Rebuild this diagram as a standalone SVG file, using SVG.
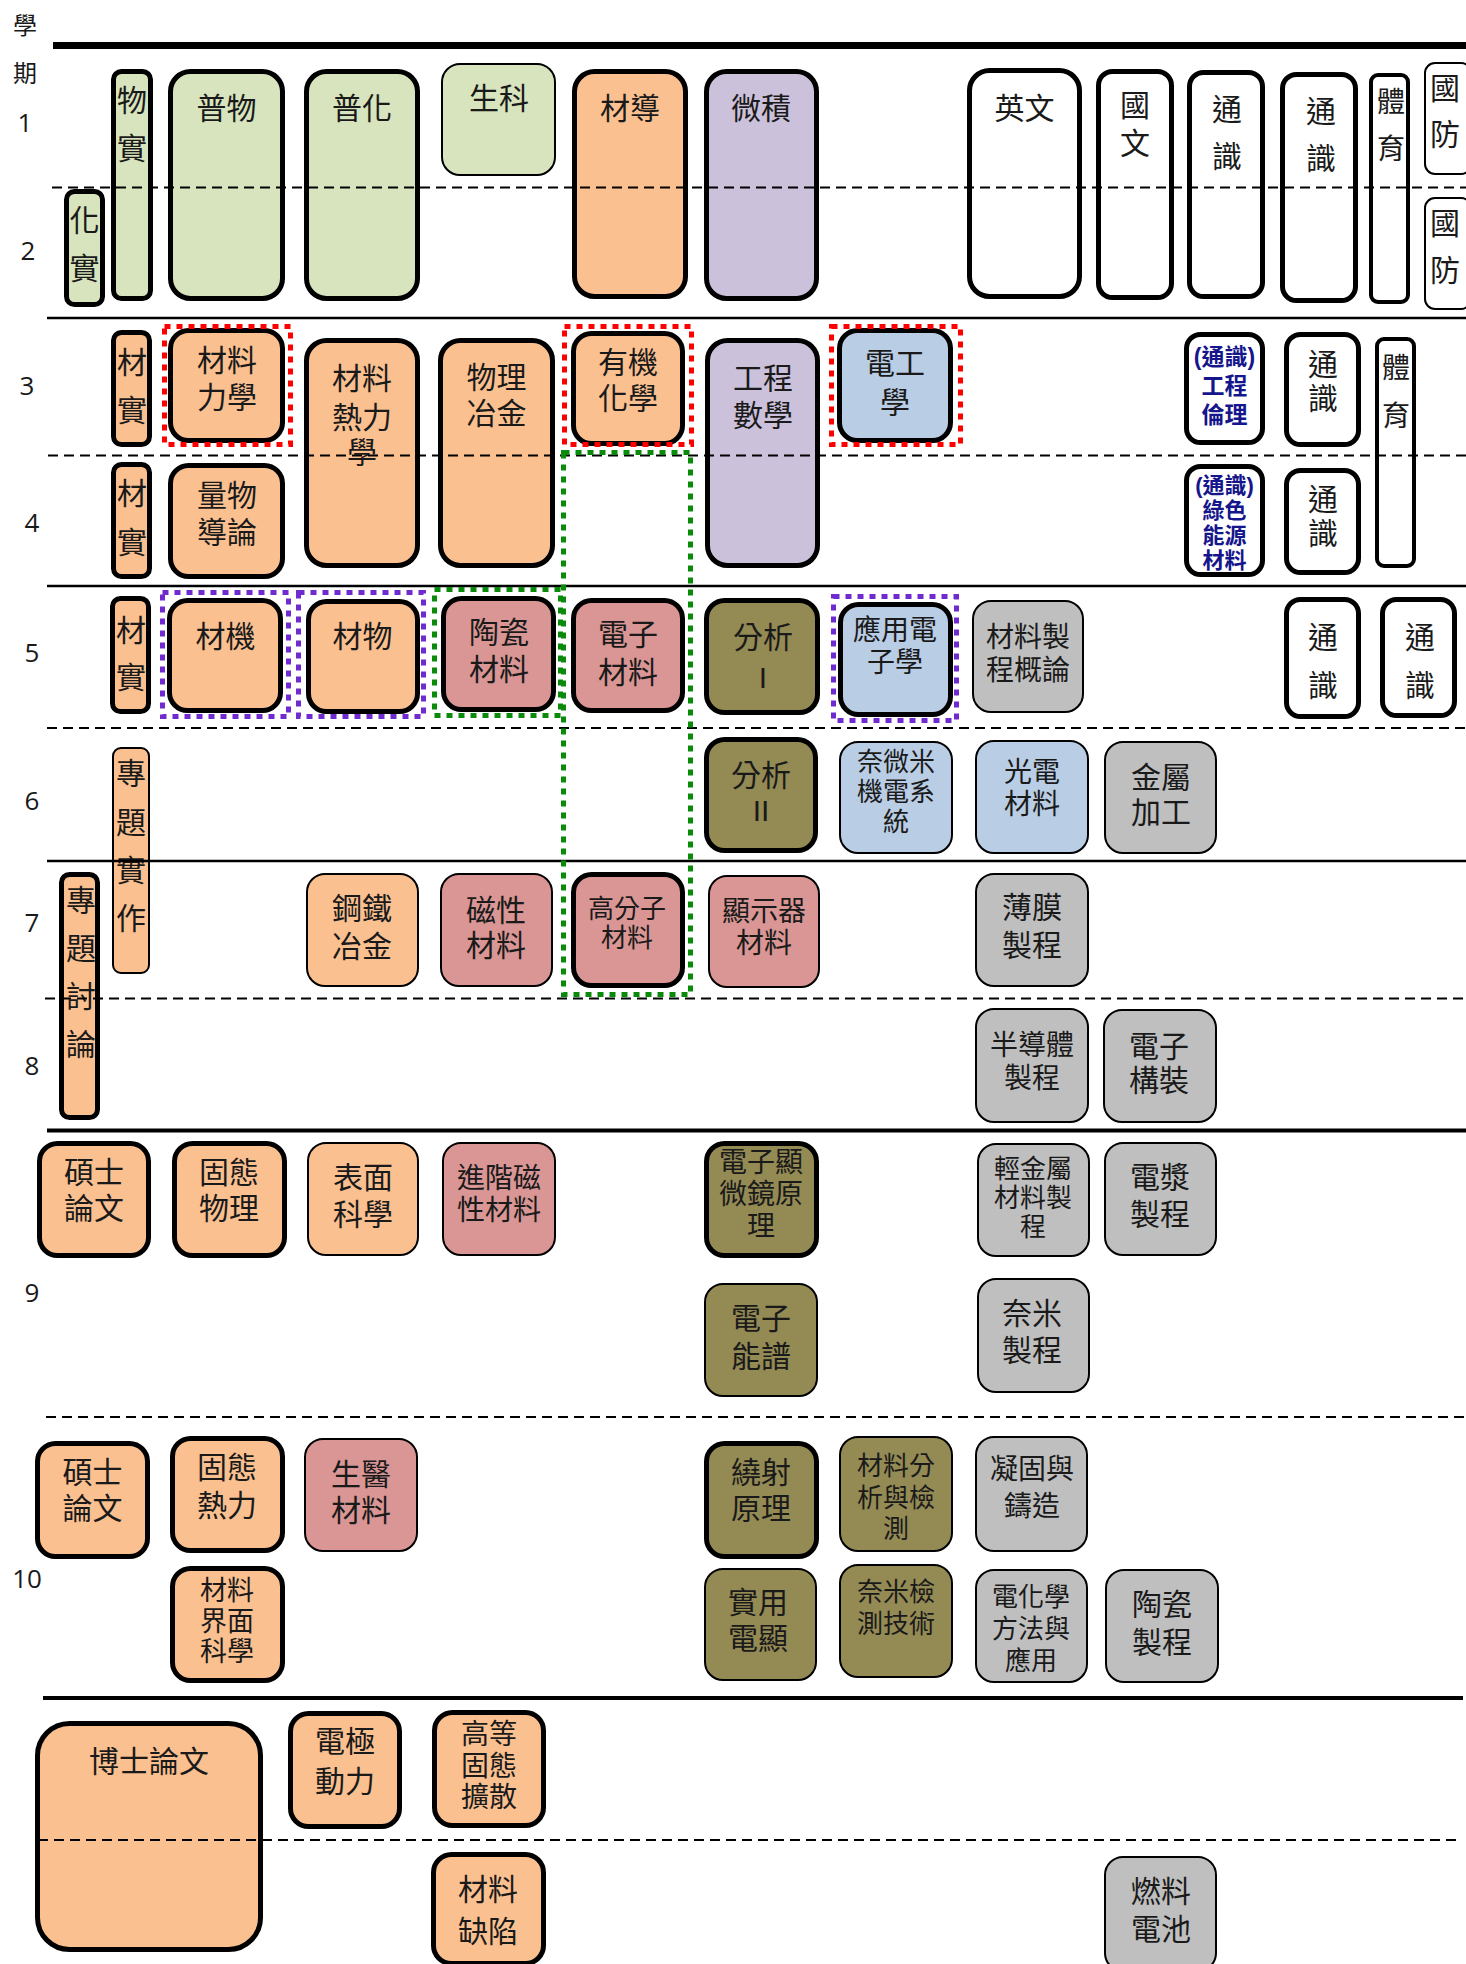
<svg xmlns="http://www.w3.org/2000/svg" width="1466" height="1964" viewBox="0 0 1466 1964">
<style>
.g{fill:#D7E4BD}.o{fill:#FAC090}.p{fill:#CCC1DA}.w{fill:#FFFFFF}.pk{fill:#D99694}.b{fill:#B9CDE5}.ol{fill:#948A54}.gr{fill:#BFBFBF}
.k{stroke:#000;stroke-width:5}.k4{stroke:#000;stroke-width:4}.t{stroke:#000;stroke-width:2}
text{font-family:"Liberation Sans","Noto Sans CJK TC","Noto Sans CJK SC",sans-serif;font-size:30px;fill:#1a1a1a;text-anchor:middle;dominant-baseline:central}
.s28{font-size:28px}.s27{font-size:27px}.s26{font-size:26px}
.nv{fill:#16168C;font-weight:bold;font-size:23px}
.nv2{font-size:22px}
.num{font-family:"Open Sans","Liberation Sans",sans-serif;font-size:26px}
.lab{font-size:24px}
.dash{stroke:#000;stroke-width:2;stroke-dasharray:10 6;fill:none}
.sol{stroke:#000;fill:none}
.fr{fill:none;stroke-width:5;stroke-dasharray:6 6}
.red{stroke:#FF0000}.grn{stroke:#0A8A0A}.pur{stroke:#6F2BD0}
</style>
<rect width="1466" height="1964" fill="#fff"/>
<g id="labels">
<text class="lab"><tspan x="25" y="25">學</tspan><tspan x="25" y="73">期</tspan></text>
<text class="num" x="25" y="122">1</text>
<text class="num" x="28" y="250">2</text>
<text class="num" x="27" y="385">3</text>
<text class="num" x="32" y="522">4</text>
<text class="num" x="32" y="652">5</text>
<text class="num" x="32" y="800">6</text>
<text class="num" x="32" y="922">7</text>
<text class="num" x="32" y="1065">8</text>
<text class="num" x="32" y="1292">9</text>
<text class="num" x="27" y="1578">10</text>
</g>
<g id="nodes">
<g id="n-wushi"><rect class="g k" x="113.5" y="71.5" width="37" height="227" rx="8"/><text><tspan x="132" y="100">物</tspan><tspan x="132" y="148">實</tspan></text></g>
<g id="n-huashi"><rect class="g k" x="66.5" y="191.5" width="36" height="113" rx="8"/><text><tspan x="84.5" y="220">化</tspan><tspan x="84.5" y="268">實</tspan></text></g>
<g id="n-puwu"><rect class="g k" x="170.5" y="71.5" width="112" height="227" rx="20"/><text x="226.5" y="108">普物</text></g>
<g id="n-puhua"><rect class="g k" x="306.5" y="71.5" width="111" height="227" rx="20"/><text x="362" y="108">普化</text></g>
<g id="n-shengke"><rect class="g t" x="442" y="64" width="113" height="111" rx="18"/><text x="499" y="98">生科</text></g>
<g id="n-caidao"><rect class="o k" x="574.5" y="71.5" width="111" height="225" rx="20"/><text x="630" y="108">材導</text></g>
<g id="n-weiji"><rect class="p k" x="706.5" y="71.5" width="110" height="227" rx="20"/><text x="761" y="108">微積</text></g>
<g id="n-yingwen"><rect class="w k" x="969.5" y="70.5" width="110" height="226" rx="20"/><text x="1024.5" y="108">英文</text></g>
<g id="n-guowen"><rect class="w k" x="1098.5" y="71.5" width="73" height="226" rx="14"/><text><tspan x="1135" y="105">國</tspan><tspan x="1135" y="143">文</tspan></text></g>
<g id="n-tongshi1"><rect class="w k" x="1189.5" y="72.5" width="73" height="224" rx="14"/><text><tspan x="1227" y="109">通</tspan><tspan x="1227" y="156">識</tspan></text></g>
<g id="n-tongshi2"><rect class="w k" x="1282.5" y="74.5" width="73" height="226" rx="14"/><text><tspan x="1321" y="111">通</tspan><tspan x="1321" y="158">識</tspan></text></g>
<g id="n-tiyu1"><rect class="w k4" x="1371" y="75" width="37" height="227" rx="7"/><text class="s28"><tspan x="1391" y="102">體</tspan><tspan x="1391" y="149">育</tspan></text></g>
<g id="n-guofang1"><rect class="w t" x="1425" y="63" width="46" height="111" rx="10"/><text><tspan x="1445" y="88">國</tspan><tspan x="1445" y="134">防</tspan></text></g>
<g id="n-guofang2"><rect class="w t" x="1425" y="198" width="46" height="111" rx="10"/><text><tspan x="1445" y="223">國</tspan><tspan x="1445" y="270">防</tspan></text></g>

<g id="n-caishi3"><rect class="o k" x="113.5" y="332.5" width="36" height="112" rx="8"/><text><tspan x="132" y="362">材</tspan><tspan x="132" y="410">實</tspan></text></g>
<g id="n-caishi4"><rect class="o k" x="113.5" y="464.5" width="36" height="112" rx="8"/><text><tspan x="132" y="493">材</tspan><tspan x="132" y="542">實</tspan></text></g>
<g id="n-cailiaolixue"><rect class="o k" x="170.5" y="330.5" width="112" height="110" rx="18"/><text><tspan x="227" y="360">材料</tspan><tspan x="227" y="397">力學</tspan></text></g>
<g id="n-liangwu"><rect class="o k" x="170.5" y="465.5" width="112" height="111" rx="18"/><text><tspan x="227" y="495">量物</tspan><tspan x="227" y="532">導論</tspan></text></g>
<g id="n-relixue"><rect class="o k" x="306.5" y="340.5" width="111" height="225" rx="20"/><text><tspan x="362" y="378">材料</tspan><tspan x="362" y="417">熱力</tspan><tspan x="362" y="452">學</tspan></text></g>
<g id="n-wulizhijin"><rect class="o k" x="440.5" y="340.5" width="112" height="225" rx="20"/><text><tspan x="496.5" y="377">物理</tspan><tspan x="496.5" y="413">冶金</tspan></text></g>
<g id="n-youji"><rect class="o k" x="573.5" y="333.5" width="109" height="110" rx="18"/><text><tspan x="628" y="362">有機</tspan><tspan x="628" y="398">化學</tspan></text></g>
<g id="n-gongshu"><rect class="p k" x="707.5" y="340.5" width="110" height="225" rx="20"/><text><tspan x="763" y="378">工程</tspan><tspan x="763" y="415">數學</tspan></text></g>
<g id="n-diangong"><rect class="b k" x="839.5" y="330.5" width="111" height="110" rx="18"/><text><tspan x="895" y="363">電工</tspan><tspan x="895" y="402">學</tspan></text></g>
<g id="n-lunli"><rect class="w k" x="1186.5" y="334.5" width="76" height="108" rx="14"/><text class="nv"><tspan x="1224.5" y="357">(通識)</tspan><tspan x="1224.5" y="386">工程</tspan><tspan x="1224.5" y="415">倫理</tspan></text></g>
<g id="n-tongshi3"><rect class="w k" x="1286.5" y="334.5" width="72" height="110" rx="14"/><text><tspan x="1323" y="364">通</tspan><tspan x="1323" y="398">識</tspan></text></g>
<g id="n-tiyu2"><rect class="w k4" x="1377" y="339" width="37" height="227" rx="7"/><text class="s28"><tspan x="1396" y="368">體</tspan><tspan x="1396" y="416">育</tspan></text></g>
<g id="n-lvse"><rect class="w k" x="1186.5" y="466.5" width="76" height="108" rx="14"/><text class="nv nv2"><tspan x="1224.5" y="485">(通識)</tspan><tspan x="1224.5" y="510">綠色</tspan><tspan x="1224.5" y="535">能源</tspan><tspan x="1224.5" y="560">材料</tspan></text></g>
<g id="n-tongshi4"><rect class="w k" x="1286.5" y="470.5" width="72" height="102" rx="14"/><text><tspan x="1323" y="499">通</tspan><tspan x="1323" y="533">識</tspan></text></g>

<g id="n-caishi5"><rect class="o k" x="112.5" y="598.5" width="36" height="113" rx="8"/><text><tspan x="131" y="630">材</tspan><tspan x="131" y="677">實</tspan></text></g>
<g id="n-caiji"><rect class="o k" x="169.5" y="600.5" width="111" height="110" rx="18"/><text x="225.5" y="636">材機</text></g>
<g id="n-caiwu"><rect class="o k" x="308.5" y="601.5" width="109" height="110" rx="18"/><text x="362.5" y="636">材物</text></g>
<g id="n-taoci"><rect class="pk k" x="443.5" y="598.5" width="110" height="111" rx="18"/><text><tspan x="499" y="632">陶瓷</tspan><tspan x="499" y="669">材料</tspan></text></g>
<g id="n-dianzicailiao"><rect class="pk k" x="573.5" y="600.5" width="109" height="110" rx="18"/><text><tspan x="628" y="634">電子</tspan><tspan x="628" y="672">材料</tspan></text></g>
<g id="n-fenxi1"><rect class="ol k" x="706.5" y="600.5" width="111" height="112" rx="18"/><text><tspan x="763" y="637">分析</tspan><tspan x="763" y="677">I</tspan></text></g>
<g id="n-yingyong"><rect class="b k" x="840.5" y="604.5" width="110" height="110" rx="18"/><text class="s28"><tspan x="895" y="630">應用電</tspan><tspan x="895" y="662">子學</tspan></text></g>
<g id="n-zhichenggailun"><rect class="gr t" x="973" y="601" width="110" height="111" rx="18"/><text class="s28"><tspan x="1028" y="637">材料製</tspan><tspan x="1028" y="670">程概論</tspan></text></g>
<g id="n-tongshi5a"><rect class="w k" x="1286.5" y="599.5" width="72" height="117" rx="14"/><text><tspan x="1323" y="637">通</tspan><tspan x="1323" y="685">識</tspan></text></g>
<g id="n-tongshi5b"><rect class="w k" x="1382.5" y="599.5" width="72" height="116" rx="14"/><text><tspan x="1420" y="637">通</tspan><tspan x="1420" y="685">識</tspan></text></g>
<g id="n-fenxi2"><rect class="ol k" x="706.5" y="739.5" width="109" height="111" rx="18"/><text><tspan x="761" y="775">分析</tspan><tspan x="761" y="810">II</tspan></text></g>
<g id="n-naiweimi"><rect class="b t" x="840" y="742" width="112" height="111" rx="18"/><text class="s26"><tspan x="896" y="762">奈微米</tspan><tspan x="896" y="792">機電系</tspan><tspan x="896" y="822">統</tspan></text></g>
<g id="n-guangdian"><rect class="b t" x="976" y="741" width="112" height="112" rx="18"/><text class="s28"><tspan x="1032" y="772">光電</tspan><tspan x="1032" y="804">材料</tspan></text></g>
<g id="n-jinshujiagong"><rect class="gr t" x="1105" y="742" width="111" height="111" rx="18"/><text><tspan x="1161" y="777">金屬</tspan><tspan x="1161" y="812">加工</tspan></text></g>
<g id="n-zhuantishizuo"><rect class="o t" x="113" y="748" width="36" height="225" rx="8"/><text><tspan x="131" y="773">專</tspan><tspan x="131" y="822">題</tspan><tspan x="131" y="870">實</tspan><tspan x="131" y="918">作</tspan></text></g>

<g id="n-zhuantitaolun"><rect class="o k" x="61.5" y="874.5" width="36" height="243" rx="8"/><text><tspan x="81" y="900">專</tspan><tspan x="81" y="948">題</tspan><tspan x="81" y="996">討</tspan><tspan x="81" y="1044">論</tspan></text></g>
<g id="n-gangtie"><rect class="o t" x="307" y="874" width="111" height="112" rx="18"/><text><tspan x="362" y="908">鋼鐵</tspan><tspan x="362" y="946">冶金</tspan></text></g>
<g id="n-cixing"><rect class="pk t" x="441" y="874" width="111" height="112" rx="18"/><text><tspan x="496" y="910">磁性</tspan><tspan x="496" y="945">材料</tspan></text></g>
<g id="n-gaofenzi"><rect class="pk k" x="573.5" y="874.5" width="109" height="111" rx="18"/><text class="s26"><tspan x="627" y="909">高分子</tspan><tspan x="627" y="938">材料</tspan></text></g>
<g id="n-xianshiqi"><rect class="pk t" x="709" y="876" width="110" height="111" rx="18"/><text class="s28"><tspan x="764" y="911">顯示器</tspan><tspan x="764" y="943">材料</tspan></text></g>
<g id="n-baomo"><rect class="gr t" x="976" y="874" width="112" height="112" rx="18"/><text><tspan x="1032" y="907">薄膜</tspan><tspan x="1032" y="945">製程</tspan></text></g>
<g id="n-bandaoti"><rect class="gr t" x="976" y="1009" width="112" height="113" rx="18"/><text class="s28"><tspan x="1032" y="1045">半導體</tspan><tspan x="1032" y="1078">製程</tspan></text></g>
<g id="n-goozhuang"><rect class="gr t" x="1104" y="1010" width="112" height="112" rx="18"/><text><tspan x="1159" y="1046">電子</tspan><tspan x="1159" y="1080">構裝</tspan></text></g>

<g id="n-shuoshi9"><rect class="o k" x="39.5" y="1143.5" width="109" height="112" rx="18"/><text><tspan x="94" y="1172">碩士</tspan><tspan x="94" y="1208">論文</tspan></text></g>
<g id="n-gutaiwuli"><rect class="o k" x="174.5" y="1143.5" width="110" height="112" rx="18"/><text><tspan x="229" y="1172">固態</tspan><tspan x="229" y="1208">物理</tspan></text></g>
<g id="n-biaomian"><rect class="o t" x="308" y="1143" width="110" height="112" rx="18"/><text><tspan x="363" y="1177">表面</tspan><tspan x="363" y="1214">科學</tspan></text></g>
<g id="n-jinjieci"><rect class="pk t" x="443" y="1143" width="112" height="112" rx="18"/><text class="s28"><tspan x="499" y="1178">進階磁</tspan><tspan x="499" y="1210">性材料</tspan></text></g>
<g id="n-dianxian"><rect class="ol k" x="706.5" y="1143.5" width="110" height="112" rx="18"/><text class="s28"><tspan x="761" y="1162">電子顯</tspan><tspan x="761" y="1194">微鏡原</tspan><tspan x="761" y="1226">理</tspan></text></g>
<g id="n-nengpu"><rect class="ol t" x="705" y="1284" width="112" height="112" rx="18"/><text><tspan x="761" y="1318">電子</tspan><tspan x="761" y="1356">能譜</tspan></text></g>
<g id="n-qingjinshu"><rect class="gr t" x="978" y="1144" width="111" height="112" rx="18"/><text class="s26"><tspan x="1033" y="1169">輕金屬</tspan><tspan x="1033" y="1198">材料製</tspan><tspan x="1033" y="1227">程</tspan></text></g>
<g id="n-dianjiang"><rect class="gr t" x="1105" y="1143" width="111" height="112" rx="18"/><text><tspan x="1160" y="1177">電漿</tspan><tspan x="1160" y="1214">製程</tspan></text></g>
<g id="n-naimizhicheng"><rect class="gr t" x="978" y="1279" width="111" height="113" rx="18"/><text><tspan x="1032" y="1313">奈米</tspan><tspan x="1032" y="1350">製程</tspan></text></g>

<g id="n-shuoshi10"><rect class="o k" x="37.5" y="1443.5" width="110" height="113" rx="18"/><text><tspan x="92.5" y="1472">碩士</tspan><tspan x="92.5" y="1508">論文</tspan></text></g>
<g id="n-gutaireli"><rect class="o k" x="172.5" y="1438.5" width="110" height="112" rx="18"/><text><tspan x="227" y="1467">固態</tspan><tspan x="227" y="1505">熱力</tspan></text></g>
<g id="n-shengyi"><rect class="pk t" x="305" y="1439" width="112" height="112" rx="18"/><text><tspan x="361" y="1474">生醫</tspan><tspan x="361" y="1510">材料</tspan></text></g>
<g id="n-jiemian"><rect class="o k" x="172.5" y="1568.5" width="110" height="112" rx="18"/><text class="s27"><tspan x="227" y="1591">材料</tspan><tspan x="227" y="1621.5">界面</tspan><tspan x="227" y="1652">科學</tspan></text></g>
<g id="n-raoshe"><rect class="ol k" x="706.5" y="1443.5" width="110" height="113" rx="18"/><text><tspan x="761" y="1472">繞射</tspan><tspan x="761" y="1508">原理</tspan></text></g>
<g id="n-fenxijiance"><rect class="ol t" x="840" y="1437" width="112" height="114" rx="18"/><text class="s26"><tspan x="896" y="1466">材料分</tspan><tspan x="896" y="1498">析與檢</tspan><tspan x="896" y="1529">測</tspan></text></g>
<g id="n-ninggu"><rect class="gr t" x="976" y="1437" width="111" height="114" rx="18"/><text class="s28"><tspan x="1032" y="1469">凝固與</tspan><tspan x="1032" y="1506">鑄造</tspan></text></g>
<g id="n-shiyong"><rect class="ol t" x="705" y="1569" width="111" height="111" rx="18"/><text><tspan x="758" y="1602">實用</tspan><tspan x="758" y="1638">電顯</tspan></text></g>
<g id="n-naimijiance"><rect class="ol t" x="840" y="1565" width="112" height="112" rx="18"/><text class="s26"><tspan x="896" y="1592">奈米檢</tspan><tspan x="896" y="1624">測技術</tspan></text></g>
<g id="n-dianhuaxue"><rect class="gr t" x="976" y="1570" width="111" height="112" rx="18"/><text class="s26"><tspan x="1031" y="1597">電化學</tspan><tspan x="1031" y="1629">方法與</tspan><tspan x="1031" y="1661">應用</tspan></text></g>
<g id="n-taocizhicheng"><rect class="gr t" x="1106" y="1570" width="112" height="112" rx="18"/><text><tspan x="1162" y="1604">陶瓷</tspan><tspan x="1162" y="1642">製程</tspan></text></g>

<g id="n-boshi"><rect class="o k" x="37.5" y="1723.5" width="223" height="226" rx="32"/><text x="149" y="1761">博士論文</text></g>
<g id="n-dianji"><rect class="o k" x="290.5" y="1713.5" width="109" height="113" rx="18"/><text><tspan x="345" y="1741">電極</tspan><tspan x="345" y="1781">動力</tspan></text></g>
<g id="n-kuosan"><rect class="o k" x="434.5" y="1712.5" width="109" height="113" rx="18"/><text class="s28"><tspan x="489" y="1734">高等</tspan><tspan x="489" y="1765.5">固態</tspan><tspan x="489" y="1797">擴散</tspan></text></g>
<g id="n-quexian"><rect class="o k" x="433.5" y="1854.5" width="110" height="109" rx="18"/><text><tspan x="488" y="1889">材料</tspan><tspan x="488" y="1931">缺陷</tspan></text></g>
<g id="n-ranliao"><rect class="gr t" x="1105" y="1857" width="111" height="114" rx="18"/><text><tspan x="1161" y="1891">燃料</tspan><tspan x="1161" y="1929">電池</tspan></text></g>
</g>
<g id="connectors">
<path class="sol" stroke-width="7" d="M53 45.5H1466"/>
<path class="dash" d="M52 187.5H1466"/>
<path class="sol" stroke-width="2.5" d="M47 318H1466"/>
<path class="dash" d="M48 455.5H1466"/>
<path class="sol" stroke-width="2.5" d="M47 586H1466"/>
<path class="dash" d="M47 728H1466"/>
<path class="sol" stroke-width="2.5" d="M47 861H1466"/>
<path class="dash" d="M45 998.5H1466"/>
<path class="sol" stroke-width="4" d="M47 1130.5H1466"/>
<path class="dash" d="M46 1417H1466"/>
<path class="sol" stroke-width="4" d="M43 1698H1463"/>
<path class="dash" d="M38 1840H1460"/>
</g>
<g id="frames">
<rect class="fr red" x="164.5" y="326.5" width="126" height="118"/>
<rect class="fr red" x="564.5" y="326.5" width="127" height="118"/>
<rect class="fr red" x="831.5" y="326.5" width="129" height="118"/>
<rect class="fr grn" x="563.5" y="452.5" width="127" height="542"/>
<rect class="fr grn" x="434.5" y="589.5" width="126" height="126"/>
<rect class="fr pur" x="162.5" y="592.5" width="126" height="124"/>
<rect class="fr pur" x="298.5" y="592.5" width="125" height="124"/>
<rect class="fr pur" x="833.5" y="596.5" width="123" height="124"/>
</g>
</svg>
